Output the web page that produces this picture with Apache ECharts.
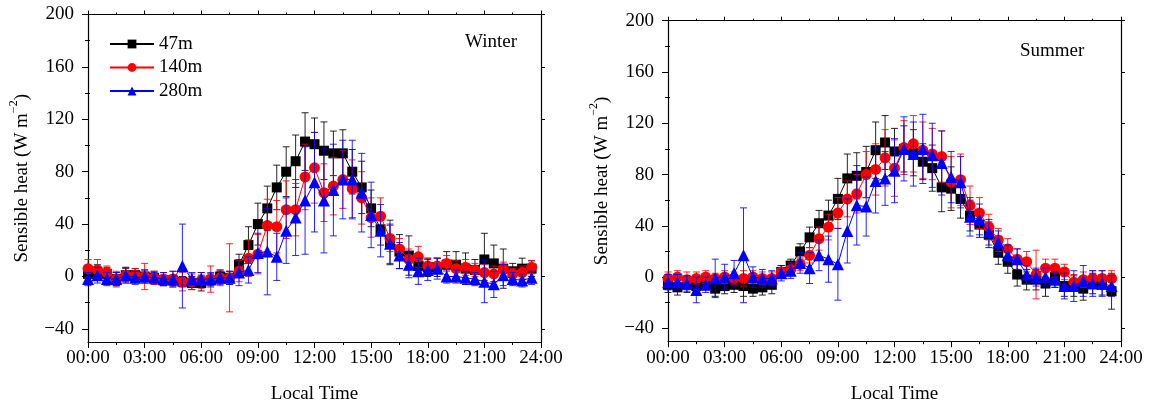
<!DOCTYPE html>
<html>
<head>
<meta charset="utf-8">
<script src="https://cdn.jsdelivr.net/npm/echarts@6/dist/echarts.min.js"></script>
<style>html,body{margin:0;padding:0;background:#fff}#c{width:1157px;height:409px}</style>
</head>
<body>
<div id="c"></div>
<script>
// ---- data (half-hourly, 00:00 .. 23:30) ----
const hours = Array.from({length: 48}, (_, i) => i * 0.5);
const seriesNames = ['47m', '140m', '280m'];
const xTickLabels = ['00:00','03:00','06:00','09:00','12:00','15:00','18:00','21:00','24:00'];
const yTickValues = [-40, 0, 40, 80, 120, 160, 200];
const yMinorValues = [-20, 20, 60, 100, 140, 180];
const panelTitles = ['Winter', 'Summer'];

const winter47 = [2,3,2,-2,1,1,0,-1,-3,-3,-4,-5,-5,-3,0,-1,9,24,40,52,68,80,88,103,101,96,94,94,80,68,52,36,26,19,16,8,7,7,9,9,6,5,13,10,6,4,6,6];
const winter140 = [6,5,3,-2,1,1,0,-1,-2,-2,-4,-4,-3,-2,-1,-1,4,14,17,39,38,51,51,76,83,64,69,74,67,60,45,46,29,21,13,15,8,8,10,6,7,5,3,2,6,2,3,7];
const winter280 = [-2,1,-2,-2,1,-1,0,-1,-2,-2,8,-2,-2,-2,-1,-1,3,5,18,19,15,35,45,58,72,58,66,74,74,64,47,35,25,16,9,4,5,6,0,0,-1,-2,-4,-6,1,-2,-3,-1];
const winter47Err = [6,6,5,5,5,5,5,5,4,4,4,5,6,5,5,5,8,14,16,17,17,19,20,22,20,22,17,18,17,20,14,12,17,13,15,8,7,7,10,10,12,8,20,14,15,6,8,6];
const winter140Err = [7,8,5,6,6,5,10,5,5,6,7,6,6,10,6,26,8,14,15,20,20,22,20,25,27,22,22,22,22,20,15,14,10,8,8,8,6,6,6,6,6,5,6,6,5,4,5,5];
const winter280Err = [5,6,5,5,6,5,5,4,5,6,32,5,5,5,5,5,10,10,15,33,18,25,29,41,38,40,35,30,30,30,25,20,15,10,10,10,8,8,5,5,5,5,16,10,8,5,5,5];

const summer47 = [-6,-8,-6,-7,-5,-9,-7,-6,-7,-9,-8,-6,4,9,20,31,42,48,61,77,79,82,99,105,98,100,97,90,85,70,69,61,48,41,33,19,12,2,-2,-2,-5,0,-7,-7,-9,-5,-6,-11];
const summer140 = [-1,0,-2,-1,0,-1,0,-1,-1,0,-1,-1,4,6,10,17,30,39,50,61,65,80,84,93,85,101,104,99,96,94,74,76,56,50,39,29,22,14,12,2,7,7,4,-4,-2,-1,-1,-1];
const summer280 = [-4,-4,-5,-10,-6,-1,0,3,17,0,-1,-1,3,5,11,7,17,14,10,36,56,55,75,77,83,100,96,100,95,89,78,74,47,45,35,27,17,14,2,0,0,-2,-7,-7,-3,-5,-5,-7];
const summer47Err = [6,6,6,6,5,6,6,6,8,6,6,7,5,5,6,8,10,12,16,19,18,20,22,21,18,18,18,14,18,19,17,15,12,10,10,9,9,9,8,8,10,8,8,8,9,8,8,14];
const summer140Err = [5,5,6,5,5,4,5,5,6,5,5,5,5,5,5,6,9,10,12,14,15,18,20,22,22,21,22,22,20,20,20,20,15,12,10,9,8,8,8,19,7,7,6,6,6,6,6,6];
const summer280Err = [6,6,6,10,6,15,10,10,37,8,7,6,6,6,8,12,12,18,28,25,31,23,25,21,25,25,25,27,25,25,20,20,15,12,10,9,8,8,7,7,7,6,10,12,12,10,10,8];

// ---- chart ----
const FONT = 'Liberation Serif';
const colors = ['#000000', '#ff0000', '#0000ff'];
const symbols = ['rect', 'circle', 'triangle'];
const symbolSizes = [10, 11, 12];

const grids = [
  {left: 88, top: 14.5, width: 453, height: 327.5},
  {left: 668, top: 20.7, width: 453, height: 320.5}
];

const axisLineStyle = {color: '#000', width: 1.2};
const xAxes = [], yAxes = [];
grids.forEach((g, gi) => {
  xAxes.push({
    gridIndex: gi, type: 'value', min: 0, max: 24, interval: 3, position: 'bottom',
    name: 'Local Time', nameLocation: 'middle', nameGap: 43,
    nameTextStyle: {fontFamily: FONT, fontSize: 19, color: '#000'},
    axisLine: {show: true, onZero: false, lineStyle: axisLineStyle},
    axisTick: {show: true, inside: false, length: 6, lineStyle: {color: '#000', width: 1}},
    minorTick: {show: true, splitNumber: 2, length: 3, lineStyle: {color: '#000', width: 1}},
    axisLabel: {fontFamily: FONT, fontSize: 19, color: '#000', margin: 7,
      formatter: v => xTickLabels[Math.round(v / 3)]},
    splitLine: {show: false}, minorSplitLine: {show: false}
  });
  xAxes.push({
    gridIndex: gi, type: 'value', min: 0, max: 24, interval: 3, position: 'top',
    axisLine: {show: true, onZero: false, lineStyle: axisLineStyle},
    axisTick: {show: true, inside: false, length: 4, lineStyle: {color: '#000', width: 1}},
    minorTick: {show: true, splitNumber: 2, length: 2, lineStyle: {color: '#000', width: 1}},
    axisLabel: {show: false}, splitLine: {show: false}
  });
  const yName = '{a|Sensible heat (W m}{b|−2}{a|)}';
  yAxes.push({
    gridIndex: gi, type: 'value', min: -50, max: 200, position: 'left',
    name: yName, nameLocation: 'middle', nameGap: 56,
    nameTextStyle: {rich: {
      a: {fontFamily: FONT, fontSize: 19, color: '#000', lineHeight: 24, verticalAlign: 'bottom'},
      b: {fontFamily: FONT, fontSize: 12, color: '#000', lineHeight: 24, verticalAlign: 'top'}
    }},
    axisLine: {show: true, onZero: false, lineStyle: axisLineStyle},
    axisTick: {show: true, inside: false, length: 6, customValues: yTickValues, lineStyle: {color: '#000', width: 1}},
    axisLabel: {fontFamily: FONT, fontSize: 19, color: '#000', margin: 14, customValues: yTickValues,
      formatter: v => (v < 0 ? '\u2212' + Math.abs(v) : String(v))},
    splitLine: {show: false}
  });
  yAxes.push({
    gridIndex: gi, type: 'value', min: -50, max: 200, position: 'left',
    axisLine: {show: false},
    axisTick: {show: true, inside: false, length: 3, customValues: yMinorValues, lineStyle: {color: '#000', width: 1}},
    axisLabel: {show: false, customValues: yMinorValues}, splitLine: {show: false}
  });
  yAxes.push({
    gridIndex: gi, type: 'value', min: -50, max: 200, position: 'right',
    axisLine: {show: true, onZero: false, lineStyle: axisLineStyle},
    axisTick: {show: true, inside: false, length: 4, customValues: yTickValues, lineStyle: {color: '#000', width: 1}},
    axisLabel: {show: false, customValues: yTickValues}, splitLine: {show: false}
  });
  yAxes.push({
    gridIndex: gi, type: 'value', min: -50, max: 200, position: 'right',
    axisLine: {show: false},
    axisTick: {show: true, inside: false, length: 2, customValues: yMinorValues, lineStyle: {color: '#000', width: 1}},
    axisLabel: {show: false, customValues: yMinorValues}, splitLine: {show: false}
  });
});

function errRender(color) {
  return function (params, api) {
    const x = api.value(0), y = api.value(1), e = api.value(2);
    const t = api.coord([x, y + e]);
    const b = api.coord([x, y - e]);
    const w = 3.5;
    const st = {stroke: color, lineWidth: 1, opacity: 0.85};
    return {type: 'group', children: [
      {type: 'line', shape: {x1: t[0], y1: t[1], x2: b[0], y2: b[1]}, style: st},
      {type: 'line', shape: {x1: t[0] - w, y1: t[1], x2: t[0] + w, y2: t[1]}, style: st},
      {type: 'line', shape: {x1: b[0] - w, y1: b[1], x2: b[0] + w, y2: b[1]}, style: st}
    ]};
  };
}

const panels = [
  {vals: [winter47, winter140, winter280], errs: [winter47Err, winter140Err, winter280Err]},
  {vals: [summer47, summer140, summer280], errs: [summer47Err, summer140Err, summer280Err]}
];

const series = [];
panels.forEach((p, gi) => {
  for (let k = 0; k < 3; k++) {
    series.push({
      type: 'line', name: seriesNames[k], xAxisIndex: gi * 2, yAxisIndex: gi * 4,
      data: hours.map((h, i) => [h, p.vals[k][i]]),
      symbol: symbols[k], symbolSize: symbolSizes[k], showSymbol: true,
      itemStyle: {color: colors[k]}, lineStyle: {color: colors[k], width: 1},
      z: 3 + k * 2, animation: false
    });
    series.push({
      type: 'custom', name: seriesNames[k] + ' SD', xAxisIndex: gi * 2, yAxisIndex: gi * 4,
      renderItem: errRender(colors[k]), z: 2 + k * 2,
      itemStyle: {color: colors[k]},
      data: hours.map((h, i) => [h, p.vals[k][i], p.errs[k][i]]),
      silent: true, animation: false, clip: false
    });
  }
});

const chart = echarts.init(document.getElementById('c'), null, {renderer: 'canvas'});
chart.setOption({
  backgroundColor: '#fff',
  animation: false,
  grid: grids,
  xAxis: xAxes,
  yAxis: yAxes,
  legend: {
    data: seriesNames.slice(),
    orient: 'vertical', left: 109, top: 34, padding: 0,
    itemWidth: 44, itemHeight: 11, itemGap: 3.5,
    selectedMode: false,
    textStyle: {fontFamily: FONT, fontSize: 19, color: '#000', lineHeight: 20}
  },
  graphic: [
    {type: 'text', left: 465, top: 33, style: {text: panelTitles[0], font: '19px "Liberation Serif"', fill: '#000'}},
    {type: 'text', left: 1020, top: 42, style: {text: panelTitles[1], font: '19px "Liberation Serif"', fill: '#000'}}
  ],
  series: series
});
</script>
</body>
</html>
